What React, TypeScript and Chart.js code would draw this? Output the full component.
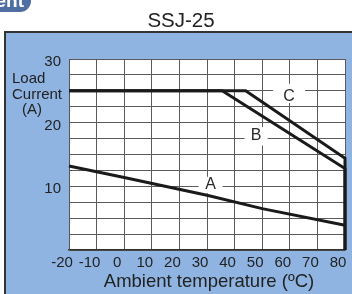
import React, { useEffect, useRef } from "react";
import { Chart, registerables } from "chart.js";

Chart.register(...registerables);

// ---- data ----
const chartTitle = "SSJ-25";
const xAxisTitle = "Ambient temperature (ºC)";
const yAxisTitleLines = ["Load", "Current", "(A)"];
const xMin = -20;
const xMax = 80;
const yMin = 0;
const yMax = 30;
const yLabelTicks = [10, 20, 30];

const curveNames = ["A", "B", "C"];
const curveATemp = [-20, 0, 30, 50, 80];
const curveACurrent = [13.2, 11.4, 8.6, 6.5, 3.9];
const curveBTemp = [-20, 35.5, 80, 80];
const curveBCurrent = [25, 25, 12.8, 0];
const curveCTemp = [-20, 44, 80, 80];
const curveCCurrent = [25, 25, 14.4, 0];

// curve name tags (data coordinates)
const tagTemp = [31.3, 47.8, 59.7];
const tagCurrent = [10.4, 18.2, 24.2];
const tagGridCurrent = [10, 17.5, 25];

const FONT = '"Liberation Sans", Arial, Helvetica, sans-serif';

const toPoints = (xs: number[], ys: number[]) => xs.map((x, i) => ({ x, y: ys[i] }));

const framePlugin = {
  id: "frame",
  beforeDraw(chart: any) {
    const ctx = chart.ctx;
    const { left, top, right, bottom } = chart.chartArea;
    ctx.save();
    ctx.fillStyle = "#ffffff";
    ctx.fillRect(0, 0, chart.width, chart.height);
    // badge
    ctx.fillStyle = "#4f6fa3";
    ctx.beginPath();
    (ctx as any).roundRect(-20, -20, 51, 32, 11);
    ctx.fill();
    ctx.fillStyle = "#ffffff";
    ctx.font = `bold 19px ${FONT}`;
    ctx.textAlign = "right";
    ctx.textBaseline = "alphabetic";
    ctx.fillText("ent", 24, 7);
    // blue panel
    ctx.fillStyle = "#8fb4e2";
    ctx.fillRect(4, 32, chart.width - 4, chart.height - 32);
    ctx.fillStyle = "#333333";
    ctx.fillRect(4, 31, chart.width - 4, 2);
    ctx.fillRect(4, 31, 2, chart.height - 31);
    // plot background
    ctx.fillStyle = "#ffffff";
    ctx.fillRect(left, top, right - left, bottom - top);
    ctx.restore();
  },
  beforeDatasetsDraw(chart: any) {
    const ctx = chart.ctx;
    const xs = chart.scales.x;
    const ys = chart.scales.y;
    const gapW = [24, 23, 32];
    ctx.save();
    curveNames.forEach((name, i) => {
      const px = xs.getPixelForValue(tagTemp[i]);
      const gy = ys.getPixelForValue(tagGridCurrent[i]);
      const ty = ys.getPixelForValue(tagCurrent[i]);
      ctx.fillStyle = "#ffffff";
      ctx.fillRect(px - gapW[i] / 2, Math.min(gy, ty) - 7, gapW[i], Math.abs(gy - ty) + 14);
      ctx.fillStyle = "#2a2a2a";
      ctx.font = `16px ${FONT}`;
      ctx.textAlign = "center";
      ctx.textBaseline = "middle";
      ctx.fillText(name, px, ty + 1);
    });
    ctx.restore();
  },
  afterDraw(chart: any) {
    const ctx = chart.ctx;
    ctx.save();
    ctx.fillStyle = "#222222";
    ctx.textAlign = "center";
    ctx.textBaseline = "middle";
    ctx.font = `20.5px ${FONT}`;
    ctx.fillText(chartTitle, 181, 21);
    ctx.font = `18.5px ${FONT}`;
    ctx.fillText(xAxisTitle, 209, 282);
    ctx.font = `15px ${FONT}`;
    ctx.textAlign = "left";
    ctx.fillText(yAxisTitleLines[0], 12, 79);
    ctx.fillText(yAxisTitleLines[1], 12, 95);
    ctx.fillText(yAxisTitleLines[2], 22, 110);
    ctx.restore();
  },
};

export default function App() {
  const ref = useRef<HTMLCanvasElement>(null);
  useEffect(() => {
    document.body.style.margin = "0";
    const lineStyle = {
      borderColor: "#1a1a1a",
      borderWidth: 3,
      pointRadius: 0,
      tension: 0,
      fill: false,
      clip: 4,
    };
    const chart = new Chart(ref.current as HTMLCanvasElement, {
      type: "line",
      data: {
        datasets: [
          { label: curveNames[0], data: toPoints(curveATemp, curveACurrent), ...lineStyle },
          { label: curveNames[1], data: toPoints(curveBTemp, curveBCurrent), ...lineStyle },
          { label: curveNames[2], data: toPoints(curveCTemp, curveCCurrent), ...lineStyle },
        ],
      },
      options: {
        responsive: false,
        animation: false,
        devicePixelRatio: 1,
        layout: { padding: { top: 59, left: 0, right: 7, bottom: 0 } },
        plugins: {
          legend: { display: false },
          tooltip: { enabled: false },
          title: { display: false },
        },
        scales: {
          x: {
            type: "linear",
            min: xMin,
            max: xMax,
            grid: { color: "#5a5a5a", lineWidth: 1, drawTicks: false },
            border: { color: "#333333", width: 1.5 },
            ticks: {
              stepSize: 10,
              autoSkip: false,
              maxRotation: 0,
              padding: 4,
              labelOffset: -7,
              color: "#222222",
              font: { family: FONT, size: 15 },
            },
            afterFit(scale: any) {
              scale.height = 44;
              scale.paddingLeft = 0;
              scale.paddingRight = 0;
            },
          },
          y: {
            type: "linear",
            min: yMin,
            max: yMax,
            grid: { color: "#5a5a5a", lineWidth: 1, drawTicks: false },
            border: { color: "#555555", width: 1 },
            ticks: {
              stepSize: 2.5,
              autoSkip: false,
              padding: 8,
              labelOffset: 3,
              color: "#222222",
              font: { family: FONT, size: 15 },
              callback: (v: any) => (yLabelTicks.includes(Number(v)) ? String(v) : ""),
            },
            afterFit(scale: any) {
              scale.width = 69;
              scale.paddingTop = 0;
              scale.paddingBottom = 0;
            },
          },
        },
      },
      plugins: [framePlugin],
    } as any);
    return () => chart.destroy();
  }, []);
  return (
    <div style={{ position: "fixed", left: 0, top: 0, width: 352, height: 294 }}>
      <canvas ref={ref} width={352} height={294} style={{ display: "block", width: 352, height: 294 }} />
    </div>
  );
}
